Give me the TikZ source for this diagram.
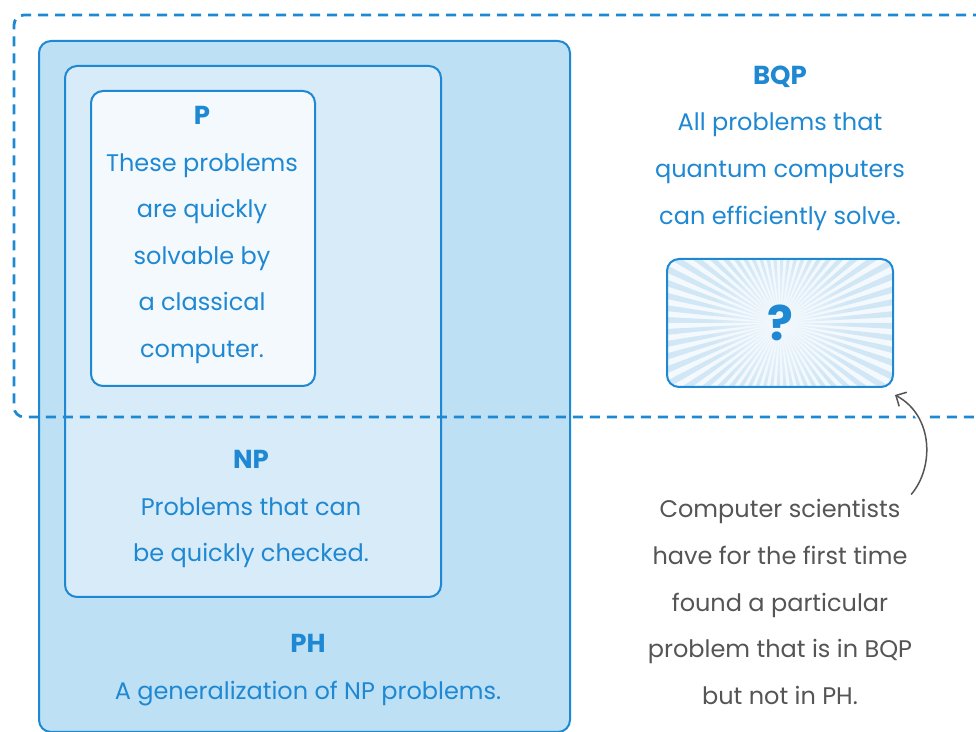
\documentclass[tikz,border=0pt]{standalone}
\usepackage{fontspec}
\setmainfont{Poppins}
\usetikzlibrary{arrows.meta, positioning, fadings}
\definecolor{qblue}{HTML}{1E88D2}
\definecolor{phfill}{HTML}{BEE0F4}
\definecolor{npfill}{HTML}{D8EBF8}
\definecolor{pfill}{HTML}{F4F9FD}
\definecolor{rayblue}{HTML}{D2E7F6}
\definecolor{notegray}{HTML}{555555}
\tikzfading[name=centerfade, inner color=transparent!0, outer color=transparent!100]
\newcommand{\classname}[1]{{\fontsize{13}{23.3}\bfseries\selectfont #1}}

\begin{document}
\begin{tikzpicture}[
  x=0.5pt, y=-0.5pt,
  setbox/.style={draw=qblue, line width=1pt, rounded corners=6pt, anchor=north west, inner sep=0pt},
  txt/.style={text=qblue, align=center, font=\fontsize{12}{23.3}\selectfont},
  note/.style={text=notegray, align=center, font=\fontsize{12}{23.3}\selectfont},
  arr/.style={draw=notegray, line width=0.75pt, -{Straight Barb[length=4pt, width=8pt]}}
]
\clip (0,0) rectangle (976,732);
\fill[white] (0,0) rectangle (976,732);

% nested classes
\node[setbox, fill=phfill, minimum width=265.5pt, minimum height=345.5pt] (ph) at (38,40) {};
\node[setbox, fill=npfill, minimum width=188pt, minimum height=265.5pt] (np) at (64,65) {};
\node[setbox, fill=pfill, minimum width=112pt, minimum height=147.5pt] (p) at (90,90) {};

\node[txt] (ptxt) at (202,235) {\classname{P}\\These problems\\are quickly\\solvable by\\a classical\\computer.};
\node[txt] (nptxt) at (251,509) {\classname{NP}\\Problems that can\\be quickly checked.};
\node[txt] (phtxt) at (308,670) {\classname{PH}\\A generalization of NP problems.};

% BQP region
\draw[qblue, line width=1.4pt, dash pattern=on 5pt off 3.5pt, rounded corners=5pt]
  (1000,15) -- (14,15) -- (14,417) -- (1000,417);
\node[txt] (bqptxt) at (780,148) {\classname{BQP}\\All problems that\\quantum computers\\can efficiently solve.};

\node[setbox, minimum width=112pt, minimum height=63pt] (qbox) at (667,259) {};
\begin{scope}
  \clip[rounded corners=6pt] (qbox.south west) rectangle (qbox.north east);
  \fill[pfill] (qbox.south west) rectangle (qbox.north east);
  \foreach \a in {0,6,...,354}
    \fill[rayblue] (qbox.center) -- +(\a:300) -- +(\a+3:300) -- cycle;
  \fill[pfill, path fading=centerfade] (qbox.center) circle (70);
\end{scope}
\draw[qblue, line width=1pt, rounded corners=6pt] (qbox.south west) rectangle (qbox.north east);
\node[text=qblue, font=\fontsize{24}{24}\bfseries\selectfont] (qmark) at (qbox.center) {?};

% annotation
\node[note] (note) at (780,602) {Computer scientists\\have for the first time\\found a particular\\problem that is in BQP\\but not in PH.};
\draw[arr, preaction={draw=white, line width=6pt, -, shorten >=8pt}]
  ([shift={(-8,2)}]note.north east) .. controls (934,468) and (934,416) .. ([shift={(2,8)}]qbox.south east);
\end{tikzpicture}
\end{document}
